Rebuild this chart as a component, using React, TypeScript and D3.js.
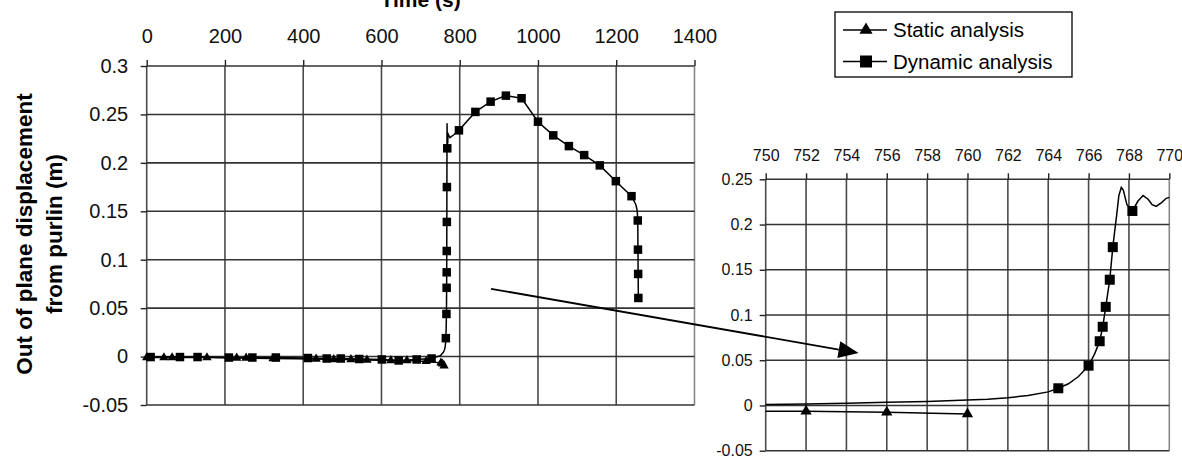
import React, { useRef, useEffect } from 'react'
import * as d3 from 'd3'

// axis ticks
const mainTimeTicks = [0, 200, 400, 600, 800, 1000, 1200, 1400]
const mainDispTicks = [-0.05, 0, 0.05, 0.1, 0.15, 0.2, 0.25, 0.3]
const zoomTimeTicks = [750, 752, 754, 756, 758, 760, 762, 764, 766, 768, 770]
const zoomDispTicks = [-0.05, 0, 0.05, 0.1, 0.15, 0.2, 0.25]

// static analysis: [time (s), displacement (m)]
const staticPoints = [
  [0, -0.001], [44, -0.001], [65, -0.001], [154, -0.001], [230, -0.0015],
  [254, -0.0015], [323, -0.002], [433, -0.0025], [478, -0.003], [522, -0.003],
  [563, -0.0035], [624, -0.004], [665, -0.004], [714, -0.005],
  [752, -0.0065], [756, -0.0075], [760, -0.0095]
]

// dynamic analysis, sampled points drawn with a square
const dynamicSquares = [
  [10, -0.0005], [85, -0.0005], [130, -0.0005], [210, -0.001], [270, -0.001],
  [330, -0.001], [412, -0.0015], [460, -0.002], [496, -0.002], [543, -0.0025],
  [601, -0.003], [644, -0.004], [690, -0.003], [728, -0.002],
  [764.5, 0.019], [766.0, 0.044], [766.55, 0.071], [766.7, 0.087],
  [766.85, 0.109], [767.05, 0.139], [767.2, 0.175], [768.17, 0.215],
  [798, 0.2336], [840, 0.2526], [879, 0.2632], [918, 0.2694], [958, 0.2667],
  [1000, 0.2425], [1039, 0.2284], [1079, 0.2173], [1118, 0.208],
  [1158, 0.1974], [1199, 0.1811], [1239, 0.1656], [1255, 0.1405],
  [1255.5, 0.1104], [1256, 0.0853], [1256.5, 0.0605]
]

// dynamic analysis, intermediate solver output (no marker)
const dynamicCurve = [
  [750, 0.001], [752, 0.0015], [754, 0.0025], [756, 0.0035], [758, 0.0045],
  [760, 0.006], [761, 0.007], [762, 0.0085], [763, 0.011], [764, 0.015],
  [765, 0.024], [765.5, 0.032], [766.3, 0.057], [767.4, 0.212],
  [767.5, 0.232], [767.62, 0.241], [767.72, 0.238], [767.9, 0.222],
  [768.45, 0.226], [768.7, 0.232], [768.95, 0.228], [769.15, 0.222],
  [769.35, 0.22], [769.6, 0.224], [769.85, 0.229], [770, 0.23],
  [775, 0.226], [785, 0.229], [1250, 0.157], [1253.5, 0.151]
]

// arrow: from a point of the main chart to a point of the zoomed chart
const arrowFrom = [880, 0.07]
const arrowTo = [754.6, 0.058]

const legendLabels = ['Static analysis', 'Dynamic analysis']

const FONT = "'Liberation Sans', Arial, sans-serif"

const drawPanel = (g, x, y, xTicks, yTicks, opt) => {
  const [left, right] = x.range()
  const [bottom, top] = y.range()

  g.append('g')
    .selectAll('line')
    .data(xTicks)
    .join('line')
    .attr('x1', d => x(d))
    .attr('x2', d => x(d))
    .attr('y1', top)
    .attr('y2', bottom)
    .attr('stroke', (d, i) => (i === xTicks.length - 1 ? '#888' : '#4a4a4a'))
    .attr('stroke-width', 1.6)

  g.append('g')
    .selectAll('line')
    .data(yTicks)
    .join('line')
    .attr('x1', left)
    .attr('x2', right)
    .attr('y1', d => y(d))
    .attr('y2', d => y(d))
    .attr('stroke', '#333')
    .attr('stroke-width', 1.6)

  const xAxis = g
    .append('g')
    .attr('transform', `translate(0,${top})`)
    .call(
      d3.axisTop(x).tickValues(xTicks).tickSize(6).tickPadding(opt.padX).tickFormat(d => String(d))
    )
  const yAxis = g
    .append('g')
    .attr('transform', `translate(${left},0)`)
    .call(
      d3.axisLeft(y).tickValues(yTicks).tickSize(6).tickPadding(opt.padY).tickFormat(d => String(d))
    )
  ;[xAxis, yAxis].forEach(a => {
    a.select('.domain').remove()
    a.selectAll('line').attr('stroke', '#222').attr('stroke-width', 1.4)
    a.selectAll('text')
      .attr('fill', '#111')
      .style('font-family', FONT)
      .style('font-size', `${opt.fontSize}px`)
  })
}

const drawSeries = (g, x, y, clipId, opt) => {
  const line = d3
    .line()
    .x(d => x(d[0]))
    .y(d => y(d[1]))

  const body = g.append('g').attr('clip-path', `url(#${clipId})`)

  const dynamicLine = d3.sort([...dynamicCurve, ...dynamicSquares], d => d[0])

  body
    .append('path')
    .attr('d', line(staticPoints))
    .attr('fill', 'none')
    .attr('stroke', '#000')
    .attr('stroke-width', 1.5)
  body
    .append('path')
    .attr('d', line(dynamicLine))
    .attr('fill', 'none')
    .attr('stroke', '#000')
    .attr('stroke-width', 1.5)

  const [x0, x1] = x.domain()
  const inside = d => d[0] >= x0 && d[0] <= x1

  body
    .selectAll('path.tri')
    .data(staticPoints.filter(inside))
    .join('path')
    .attr('class', 'tri')
    .attr('d', d3.symbol(d3.symbolTriangle, opt.triArea))
    .attr('transform', d => `translate(${x(d[0])},${y(d[1])})`)
    .attr('fill', '#000')

  const s = opt.square
  body
    .selectAll('rect.sq')
    .data(dynamicSquares.filter(inside))
    .join('rect')
    .attr('class', 'sq')
    .attr('x', d => x(d[0]) - s / 2)
    .attr('y', d => y(d[1]) - s / 2)
    .attr('width', s)
    .attr('height', s)
    .attr('fill', '#000')
}

export default function App() {
  const ref = useRef(null)

  useEffect(() => {
    if (!ref.current) return
    const svg = d3.select(ref.current)
    svg.selectAll('*').remove()

    const xMain = d3.scaleLinear().domain([0, 1400]).range([146.7, 694.5])
    const yMain = d3.scaleLinear().domain([-0.05, 0.3]).range([405, 66])
    const xZoom = d3.scaleLinear().domain([750, 770]).range([765.7, 1169.3])
    const yZoom = d3.scaleLinear().domain([-0.05, 0.25]).range([450.7, 179.3])

    const defs = svg.append('defs')
    defs
      .append('clipPath')
      .attr('id', 'clip-main')
      .append('rect')
      .attr('x', xMain(0) - 6)
      .attr('y', yMain(0.3))
      .attr('width', xMain(1400) - xMain(0) + 12)
      .attr('height', yMain(-0.05) - yMain(0.3))
    defs
      .append('clipPath')
      .attr('id', 'clip-zoom')
      .append('rect')
      .attr('x', xZoom(750))
      .attr('y', yZoom(0.25) - 20)
      .attr('width', xZoom(770) - xZoom(750))
      .attr('height', yZoom(-0.05) - yZoom(0.25) + 20)

    const main = svg.append('g')
    drawPanel(main, xMain, yMain, mainTimeTicks, mainDispTicks, {
      padX: 17,
      padY: 12.5,
      fontSize: 20
    })
    drawSeries(main, xMain, yMain, 'clip-main', { triArea: 38, square: 8.5 })

    const zoom = svg.append('g')
    drawPanel(zoom, xZoom, yZoom, zoomTimeTicks, zoomDispTicks, {
      padX: 12,
      padY: 7,
      fontSize: 16
    })
    drawSeries(zoom, xZoom, yZoom, 'clip-zoom', { triArea: 55, square: 10 })

    // axis titles
    svg
      .append('text')
      .attr('x', (xMain(0) + xMain(1400)) / 2)
      .attr('y', 7)
      .attr('text-anchor', 'middle')
      .style('font-family', FONT)
      .style('font-size', '21px')
      .style('font-weight', 'bold')
      .text('Time (s)')

    const yTitle = svg
      .append('text')
      .attr('transform', 'translate(0,234) rotate(-90)')
      .attr('text-anchor', 'middle')
      .style('font-family', FONT)
      .style('font-size', '22.5px')
      .style('font-weight', 'bold')
    yTitle.append('tspan').attr('x', 0).attr('y', 32).text('Out of plane displacement')
    yTitle.append('tspan').attr('x', 0).attr('y', 62).text('from purlin (m)')

    // arrow
    const ax0 = xMain(arrowFrom[0])
    const ay0 = yMain(arrowFrom[1])
    const ax1 = xZoom(arrowTo[0])
    const ay1 = yZoom(arrowTo[1])
    const ang = Math.atan2(ay1 - ay0, ax1 - ax0)
    const headLen = 20
    const headHalf = 8.5
    const bx = ax1 - headLen * Math.cos(ang)
    const by = ay1 - headLen * Math.sin(ang)
    svg
      .append('line')
      .attr('x1', ax0)
      .attr('y1', ay0)
      .attr('x2', bx)
      .attr('y2', by)
      .attr('stroke', '#000')
      .attr('stroke-width', 1.8)
    svg
      .append('path')
      .attr(
        'd',
        `M${ax1},${ay1}L${bx - headHalf * Math.sin(ang)},${by + headHalf * Math.cos(ang)}L${bx + headHalf * Math.sin(ang)},${by - headHalf * Math.cos(ang)}Z`
      )
      .attr('fill', '#000')

    // legend
    const lg = svg.append('g').attr('transform', 'translate(835,12)')
    lg.append('rect')
      .attr('width', 237)
      .attr('height', 65)
      .attr('fill', '#fff')
      .attr('stroke', '#000')
      .attr('stroke-width', 1.3)
    legendLabels.forEach((label, i) => {
      const cy = 18 + i * 31.5
      lg.append('line')
        .attr('x1', 8)
        .attr('x2', 52)
        .attr('y1', cy)
        .attr('y2', cy)
        .attr('stroke', '#000')
        .attr('stroke-width', 1.5)
      if (i === 0) {
        lg.append('path')
          .attr('d', d3.symbol(d3.symbolTriangle, 75)())
          .attr('transform', `translate(31,${cy})`)
          .attr('fill', '#000')
      } else {
        lg.append('rect')
          .attr('x', 31 - 6)
          .attr('y', cy - 6)
          .attr('width', 12)
          .attr('height', 12)
          .attr('fill', '#000')
      }
      lg.append('text')
        .attr('x', 58)
        .attr('y', cy)
        .attr('dy', '0.35em')
        .style('font-family', FONT)
        .style('font-size', '20.5px')
        .text(label)
    })
  }, [])

  return (
    <svg
      ref={ref}
      width={1182}
      height={461}
      style={{ position: 'absolute', left: 0, top: 0, background: '#fff' }}
    />
  )
}
